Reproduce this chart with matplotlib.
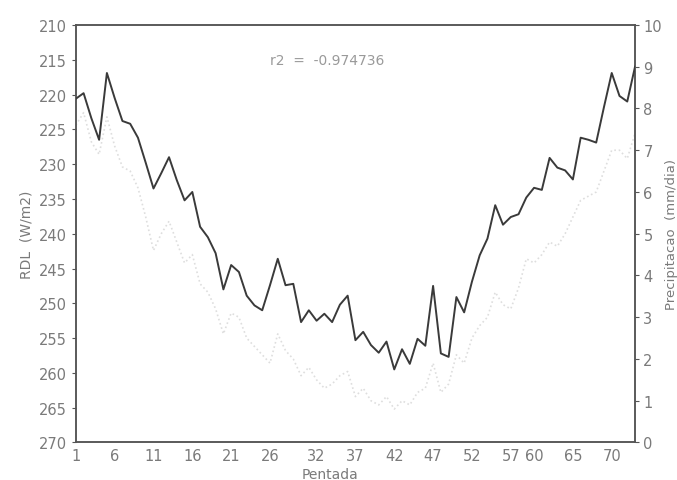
import matplotlib
matplotlib.use("Agg")
import matplotlib.pyplot as plt

# Pentads of the year
pentads = list(range(1, 74))

# Outgoing longwave radiation (W/m2) per pentad
rdl = [220.6, 219.8, 223.4, 226.5, 216.9, 220.5, 223.8, 224.2, 226.2, 229.8,
       233.5, 231.3, 229.0, 232.3, 235.2, 234.0, 239.0, 240.5, 242.8, 248.0,
       244.5, 245.5, 248.9, 250.3, 251.0, 247.4, 243.6, 247.4, 247.2, 252.7,
       251.0, 252.5, 251.5, 252.7, 250.2, 248.9, 255.3, 254.1, 256.0, 257.1,
       255.5, 259.5, 256.6, 258.7, 255.1, 256.1, 247.5, 257.2, 257.7, 249.1,
       251.3, 246.9, 243.1, 240.7, 235.9, 238.7, 237.6, 237.2, 234.8, 233.4,
       233.7, 229.1, 230.5, 230.9, 232.2, 226.2, 226.5, 226.9, 221.8, 216.9,
       220.2, 221.0, 216.0]

# Precipitation (mm/day) per pentad
precip = [7.6, 7.9, 7.2, 6.9, 7.8, 7.1, 6.6, 6.5, 6.1, 5.4,
          4.6, 5.0, 5.3, 4.8, 4.3, 4.5, 3.8, 3.6, 3.2, 2.6,
          3.1, 3.0, 2.5, 2.3, 2.1, 1.9, 2.6, 2.2, 2.0, 1.6,
          1.8, 1.5, 1.3, 1.4, 1.6, 1.7, 1.1, 1.3, 1.0, 0.9,
          1.1, 0.8, 1.0, 0.9, 1.2, 1.3, 1.9, 1.2, 1.4, 2.1,
          1.9, 2.5, 2.8, 3.0, 3.6, 3.3, 3.2, 3.7, 4.4, 4.3,
          4.5, 4.8, 4.7, 5.0, 5.4, 5.8, 5.9, 6.0, 6.5, 7.0,
          7.0, 6.8, 7.4]

x_ticks = [1, 6, 11, 16, 21, 26, 32, 37, 42, 47, 52, 57, 60, 65, 70]
rdl_ticks = list(range(210, 271, 5))
precip_ticks = list(range(0, 11))
corr_text = "r2  =  -0.974736"

text_col = "#7a7a7a"
axis_col = "#555555"

fig = plt.figure(figsize=(6.77, 4.81), dpi=100)
ax = fig.add_axes([0.112, 0.078, 0.826, 0.868])
ax2 = ax.twinx()

ax2.plot(pentads, precip, color="#dedede", linestyle=":", linewidth=1.2)
ax2.set_ylim(0, 10)
ax2.set_yticks(precip_ticks)

ax.plot(pentads, rdl, color="#3a3a3a", linewidth=1.4, zorder=5)
ax.set_zorder(ax2.get_zorder() + 1)
ax.patch.set_visible(False)

ax.set_xlim(1, 73)
ax.set_ylim(270, 210)
ax.set_xticks(x_ticks)
ax.set_yticks(rdl_ticks)

for a in (ax, ax2):
    for s in a.spines.values():
        s.set_color(axis_col)
        s.set_linewidth(1.1)
    a.tick_params(colors=axis_col, labelcolor=text_col, labelsize=10.5,
                  length=3, width=0.8)
ax.tick_params(axis="x", length=0, pad=4)
ax2.tick_params(axis="y", pad=3)

ax.set_ylabel("RDL  (W/m2)", color=text_col, fontsize=10, labelpad=4)
ax2.set_ylabel("Precipitacao  (mm/dia)", color=text_col, fontsize=9.5,
               labelpad=2)
ax.set_xlabel("Pentada", color=text_col, fontsize=10)
ax.xaxis.set_label_coords(0.455, -0.058)

ax.text(0.45, 0.915, corr_text, transform=ax.transAxes, color="#9a9a9a",
        fontsize=10, ha="center", va="center")

fig.savefig("out.png", dpi=100, facecolor="white")
